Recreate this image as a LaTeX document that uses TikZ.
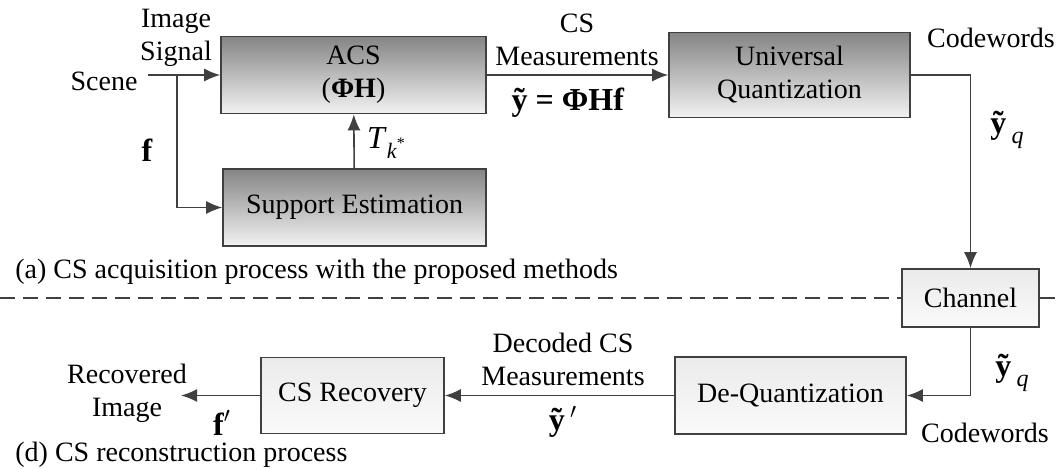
\documentclass[tikz,border=0pt]{standalone}
\usepackage{fontspec}
\setmainfont{Liberation Serif}
\usetikzlibrary{arrows.meta}

\begin{document}
\begin{tikzpicture}[x=0.5pt, y=-0.5pt, >={Latex[length=8pt,width=6.5pt]},
    font=\fontsize{14}{16.5}\selectfont,
    every node/.style={inner sep=0pt, align=center},
    blk/.style={draw=black!75, line width=0.8pt, top color=black!48, bottom color=black!5},
    lblk/.style={draw=black!75, line width=0.8pt, top color=black!8, bottom color=black!2},
    wire/.style={draw=black!75, line width=0.8pt},
    big/.style={font=\fontsize{16}{18}\selectfont}]
    \useasboundingbox (0,0) rectangle (1059,468);

    \node[blk, minimum width=132.5pt, minimum height=38.5pt] (acs) at (353.5,75) {ACS\\(\textbf{ΦH})};
    \node[blk, minimum width=131.5pt, minimum height=38.5pt] (se)  at (354.5,207.5) {Support Estimation};
    \node[blk, minimum width=120.5pt, minimum height=42.5pt] (uq)  at (789.5,75) {Universal\\Quantization};
    \node[lblk, minimum width=68.5pt, minimum height=29pt]   (ch)  at (970.5,298) {Channel};
    \node[lblk, minimum width=115.5pt, minimum height=38.5pt] (dq) at (790.5,395.5) {De-Quantization};
    \node[lblk, minimum width=91.5pt, minimum height=38pt]   (csr) at (352.5,395.5) {CS Recovery};

    \coordinate (in)  at (148,75);
    \coordinate (br)  at (177,75);
    \coordinate (out) at (181,395.5);
    \coordinate (dl)  at (0,298);
    \coordinate (dr)  at (1059,298);

    \node (scene) at (104,81) {Scene};
    \node (img) at (176,38) {Image\\Signal};
    \node[big] (f) at (147,150) {\textbf{f}};
    \node[big] (tk) at (386,143) {\textit{T}\raisebox{-5pt}{\fontsize{11}{11}\selectfont\textit{k}\raisebox{5pt}{\fontsize{8}{8}\selectfont*}}};
    \node (csm) at (577,40) {CS\\Measurements};
    \node[big] (y) at (568,103) {\textbf{ỹ = ΦHf}};
    \node (cw1) at (991,38) {Codewords};
    \node[big] (yq1) at (1007,130) {\textbf{ỹ}\,\raisebox{-5pt}{\fontsize{12}{12}\selectfont\textit{q}}};
    \node[anchor=west] (capa) at (15,272) {(a) CS acquisition process with the proposed methods};
    \node[big] (yq2) at (1012,373) {\textbf{ỹ}\,\raisebox{-5pt}{\fontsize{12}{12}\selectfont\textit{q}}};
    \node (cw2) at (985,433) {Codewords};
    \node (dcm) at (563,359) {Decoded CS\\Measurements};
    \node[big] (yp) at (563,422) {\textbf{ỹ}\,$'$};
    \node (rec) at (127,393) {Recovered\\Image};
    \node[big] (fp) at (222,423) {\textbf{f}$'$};
    \node[anchor=west] (capd) at (15,455) {(d) CS reconstruction process};

    \draw[wire,->] (in) -- (acs.west);
    \draw[wire,->] (br) |- (se.west);
    \draw[wire,->] (se) -- (acs);
    \draw[wire,->] (acs) -- (uq);
    \draw[wire,->] (uq.east) -| (ch.north);
    \draw[wire,->] (ch.south) |- (dq.east);
    \draw[wire,->] (dq) -- (csr);
    \draw[wire,->] (csr.west) -- (out);
    \draw[wire, dash pattern=on 7.5pt off 4pt] (dl) -- (ch.west) (ch.east) -- (dr);
\end{tikzpicture}
\end{document}
